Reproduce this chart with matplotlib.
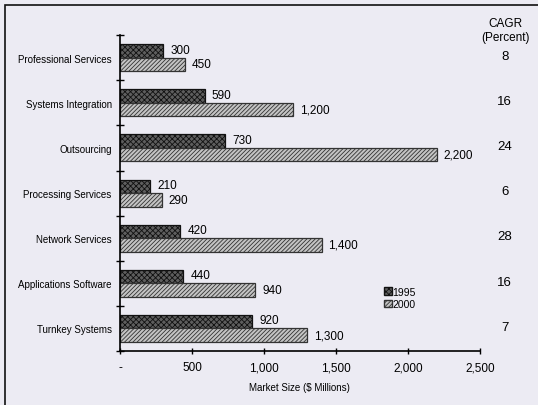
import numpy as np
import matplotlib
matplotlib.use('Agg')
import matplotlib.pyplot as plt
from matplotlib.patches import Rectangle, Patch

plt.rcParams['font.family'] = ['Liberation Sans', 'DejaVu Sans']
plt.rcParams['hatch.linewidth'] = 0.6

# data
categories = ['Professional Services', 'Systems Integration', 'Outsourcing',
              'Processing Services', 'Network Services', 'Applications Software',
              'Turnkey Systems']
size_1995 = [300, 590, 730, 210, 420, 440, 920]
size_2000 = [450, 1200, 2200, 290, 1400, 940, 1300]
cagr = [8, 16, 24, 6, 28, 16, 7]
xticks = [0, 500, 1000, 1500, 2000, 2500]
xtick_labels = ['-', '500', '1,000', '1,500', '2,000', '2,500']

bg = '#ecebf3'
fig = plt.figure(figsize=(5.38, 4.06), dpi=100, facecolor=bg)
ax = fig.add_axes([0.223, 0.133, 0.669, 0.778])
ax.set_facecolor(bg)

# frame around the chart (runs off right and bottom)
fig.patches.append(Rectangle((5/538, -0.05), 1.1, 0.985 + 0.05, transform=fig.transFigure,
                             fill=False, lw=1.2, ec='#111111'))

n = len(categories)
y = np.arange(n)[::-1] + 0.5
h = 0.3
c1, c2 = '#5e5e5e', '#c4c4c4'
ax.barh(y + h/2, size_1995, height=h, facecolor=c1, edgecolor='#111111',
        hatch='xxxxxx', lw=0.9)
ax.barh(y - h/2, size_2000, height=h, facecolor=c2, edgecolor='#333333',
        hatch='////////', lw=0.9)

for yy, v in zip(y + h/2, size_1995):
    ax.annotate(f'{v:,}', (v, yy), xytext=(5, 1), textcoords='offset points',
                va='center', ha='left', fontsize=8.5)
for yy, v in zip(y - h/2, size_2000):
    ax.annotate(f'{v:,}', (v, yy), xytext=(5, 0), textcoords='offset points',
                va='center', ha='left', fontsize=8.5)

ax.set_xlim(0, 2500)
ax.set_ylim(0, n)
ax.set_xticks(xticks)
ax.set_xticklabels(xtick_labels, fontsize=8.5)
ax.set_yticks(np.arange(n + 1))
ax.set_yticklabels([])
ax.set_yticks(y, minor=True)
ax.set_yticklabels(categories, minor=True, fontsize=7)
ax.tick_params(axis='y', which='minor', length=0, pad=6)
ax.tick_params(axis='y', which='major', direction='inout', length=6, width=1)
ax.tick_params(axis='x', direction='inout', length=5, width=1, pad=5)
ax.set_xlabel('Market Size ($ Millions)', fontsize=7, labelpad=6)

for s in ['top', 'right']:
    ax.spines[s].set_visible(False)
for s in ['left', 'bottom']:
    ax.spines[s].set_linewidth(1.2)

# CAGR column
tr = ax.get_yaxis_transform()
fig.text(505/538, 1 - 24/406, 'CAGR', ha='center', va='center', fontsize=8.5)
fig.text(505/538, 1 - 38/406, '(Percent)', ha='center', va='center', fontsize=8.5)
for yy, c in zip(y, cagr):
    ax.text(1.069, yy + 0.04, str(c), transform=tr, ha='center', va='center',
            fontsize=9.5, clip_on=False)

handles = [Patch(facecolor=c1, edgecolor='#111111', hatch='xxxxxx'),
           Patch(facecolor=c2, edgecolor='#333333', hatch='////////')]
ax.legend(handles, ['1995', '2000'], loc='upper left', bbox_to_anchor=(0.72, 0.22),
          frameon=False, fontsize=7.5, handlelength=0.7, handleheight=0.7,
          handletextpad=0.1, labelspacing=0.25, borderpad=0)

fig.savefig('out.png', dpi=100, facecolor=bg)
